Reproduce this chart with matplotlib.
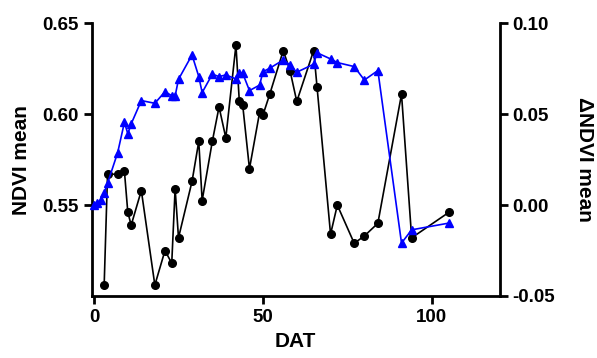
import matplotlib
matplotlib.use("Agg")
from matplotlib import pyplot as plt

# NDVI mean (left axis), black circles
dat_ndvi = [3, 4, 7, 9, 10, 11, 14, 18, 21, 23, 24, 25, 29, 31, 32, 35, 37, 39, 42,
            43, 44, 46, 49, 50, 52, 56, 58, 60, 65, 66, 70, 72, 77, 80, 84, 91, 94, 105]
ndvi = [0.506, 0.567, 0.567, 0.5685, 0.546, 0.539, 0.558, 0.506, 0.525, 0.518, 0.559,
        0.532, 0.563, 0.585, 0.5525, 0.585, 0.604, 0.587, 0.638, 0.607, 0.605, 0.570,
        0.601, 0.5996, 0.611, 0.635, 0.624, 0.607, 0.635, 0.615, 0.534, 0.550, 0.529,
        0.533, 0.540, 0.611, 0.532, 0.546]

# delta NDVI mean (right axis), blue triangles
dat_delta = [0, 1, 2, 3, 4, 7, 9, 10, 11, 14, 18, 21, 23, 24, 25, 29, 31, 32, 35, 37,
             39, 42, 43, 44, 46, 49, 50, 52, 56, 58, 60, 65, 66, 70, 72, 77, 80, 84,
             91, 94, 105]
delta = [0.0, 0.001, 0.003, 0.0066, 0.012, 0.0289, 0.0456, 0.0392, 0.0447, 0.0575,
         0.056, 0.0624, 0.0602, 0.060, 0.0692, 0.0826, 0.0707, 0.0619, 0.072, 0.0707,
         0.0716, 0.0694, 0.0729, 0.0725, 0.063, 0.066, 0.0734, 0.0753, 0.0798, 0.0771,
         0.0731, 0.0775, 0.0838, 0.0804, 0.0784, 0.0762, 0.0688, 0.074, -0.0209,
         -0.0136, -0.0099]

xticks = [0, 50, 100]
left_ticks = [0.55, 0.60, 0.65]
right_ticks = [-0.05, 0.00, 0.05, 0.10]

plt.rcParams["font.family"] = "Liberation Sans"
plt.rcParams["font.weight"] = "bold"

fig = plt.figure(figsize=(5.97, 3.58), dpi=100)
ax = fig.add_axes([0.1541, 0.1732, 0.6826, 0.7617])
ax2 = ax.twinx()

ax.plot(dat_ndvi, ndvi, "k-", marker="o", markersize=5.5, linewidth=1.2, clip_on=False)
ax2.plot(dat_delta, delta, color="#0000ff", marker="^", markersize=5.5, linewidth=1.2,
         clip_on=False)

ax.set_xlim(-0.6, 120)
ax.set_ylim(0.50, 0.65)
ax2.set_ylim(-0.05, 0.10)

ax.set_xticks(xticks)
ax.set_yticks(left_ticks)
ax.set_yticklabels(["%.2f" % v for v in left_ticks])
ax2.set_yticks(right_ticks)
ax2.set_yticklabels(["%.2f" % v for v in right_ticks])

for a in (ax, ax2):
    a.spines["top"].set_visible(False)
    for s in a.spines.values():
        s.set_linewidth(2)
    a.tick_params(width=2, length=6, labelsize=13.5, direction="out")
ax.spines["right"].set_visible(False)
ax2.spines["left"].set_visible(False)
ax2.spines["bottom"].set_visible(False)

ax.set_xlabel("DAT", fontsize=15, fontweight="bold", labelpad=4)
ax.set_ylabel("NDVI mean", fontsize=15, fontweight="bold", labelpad=8)
ax2.set_ylabel("ΔNDVI mean", fontsize=15, fontweight="bold", rotation=270, labelpad=28)

fig.savefig("out.png", dpi=100)
